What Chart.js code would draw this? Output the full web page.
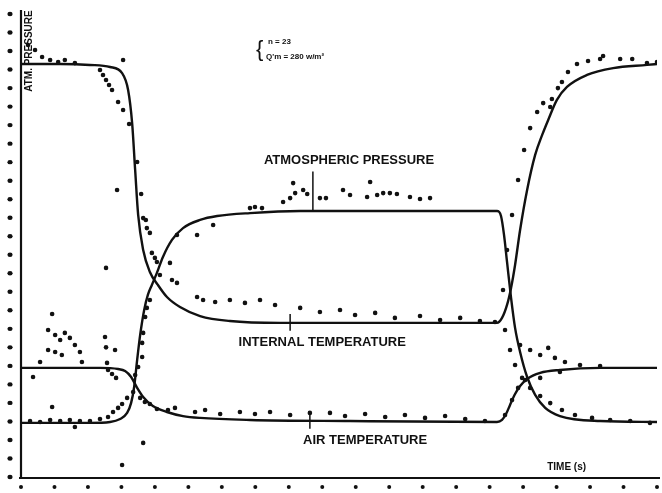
<!DOCTYPE html>
<html>
<head>
<meta charset="utf-8">
<script src="https://cdn.jsdelivr.net/npm/chart.js@4.4.0/dist/chart.umd.min.js"></script>
<style>
html,body{margin:0;padding:0;background:#fff;}
#wrap{width:662px;height:493px;}
</style>
</head>
<body>
<div id="wrap"><canvas id="c" width="662" height="493"></canvas></div>
<script>
// tick positions (unlabelled dots on both axes)
const xTicks = [0,1,2,3,4,5,6,7,8,9,10,11,12,13,14,15,16,17,18,19];
const yTicks = [0,1,2,3,4,5,6,7,8,9,10,11,12,13,14,15,16,17,18,19,20,21,22,23,24,25];

// fitted curves
const itTime  = [0,1.17,2.06,2.66,3.02,3.20,3.32,3.41,3.50,3.65,3.85,4.09,4.36,4.75,5.35,6.24,7.74,11.32,14.22,14.37,14.52,14.64,14.76,14.91,15.12,15.36,15.57,15.75,16.01,16.31,16.91,17.69,18.70,19];
const itLevel = [22.30,22.30,22.25,22.14,21.81,20.90,19.11,16.58,14.15,12.26,11.07,10.37,9.72,9.18,8.69,8.42,8.32,8.32,8.32,8.59,9.29,10.21,11.45,13.34,15.50,17.39,18.47,19.28,20.36,21.06,21.71,22.08,22.25,22.30];

const apTime  = [0,2.06,2.66,2.96,3.17,3.29,3.38,3.47,3.56,3.68,3.79,3.91,4.06,4.24,4.51,4.84,5.35,5.86,6.84,8.34,11.32,14.22,14.34,14.43,14.52,14.64,14.76,14.91,15.12,15.36,15.66,16.10,17.30,19];
const apLevel = [2.92,2.92,2.97,3.13,3.46,4.00,4.86,6.32,7.67,9.02,9.83,10.37,11.02,11.88,12.80,13.44,13.88,14.09,14.25,14.36,14.36,14.36,14.09,13.07,11.61,9.67,8.05,6.75,5.40,4.43,3.73,3.29,3.02,2.97];

const atTime  = [0,2.36,2.90,3.11,3.29,3.47,3.65,3.94,4.36,4.84,5.35,6.84,9.83,14.22,14.37,14.49,14.61,14.76,14.91,15.12,15.51,16.10,17.30,19];
const atLevel = [5.89,5.89,5.83,5.72,5.40,4.81,4.32,3.83,3.51,3.29,3.19,3.08,3.02,2.97,3.08,3.40,3.89,4.48,4.91,5.29,5.62,5.78,5.89,5.89];

// measured points [time, level]
const itDots = [[0.21,23.33],[0.42,23.06],[0.63,22.68],[0.87,22.52],[1.11,22.41],[1.31,22.52],[1.61,22.35],[2.36,21.98],[2.45,21.71],[2.54,21.44],[2.63,21.17],[2.72,20.90],[2.90,20.25],[3.05,19.82],[3.05,22.52],[3.23,19.06],[3.47,17.01],[2.87,15.50],[3.59,15.28],[3.73,13.88],[3.76,13.44],[3.85,13.18],[3.65,13.98],[3.91,12.10],[4.00,11.83],[4.06,11.61],[4.45,11.56],[4.51,10.64],[4.66,10.48],[4.15,10.91],[5.26,9.72],[5.44,9.56],[5.80,9.45],[6.24,9.56],[6.69,9.40],[7.14,9.56],[7.59,9.29],[8.34,9.13],[8.93,8.91],[9.53,9.02],[9.98,8.75],[10.58,8.86],[11.17,8.59],[11.92,8.69],[12.52,8.48],[13.12,8.59],[13.71,8.42],[14.16,8.37],[2.54,11.29],[14.40,10.10],[14.52,12.26],[14.67,14.15],[14.85,16.04],[15.03,17.66],[15.21,18.84],[15.42,19.71],[15.60,20.19],[15.81,19.98],[15.86,20.41],[16.04,21.00],[16.16,21.33],[16.34,21.87],[16.61,22.30],[16.94,22.46],[17.30,22.57],[17.39,22.73],[17.90,22.57],[18.26,22.57],[18.70,22.35],[19.0,22.41]];
const apDots = [[0.27,3.02],[0.57,2.97],[0.87,3.08],[1.17,3.02],[1.46,3.08],[1.76,3.02],[2.06,3.02],[2.36,3.13],[2.60,3.24],[2.75,3.51],[2.90,3.73],[3.02,3.94],[3.17,4.27],[3.35,4.59],[3.41,5.51],[3.50,5.94],[3.62,6.48],[3.62,7.24],[3.65,7.78],[3.71,8.64],[3.76,9.13],[3.85,9.56],[4.66,13.07],[5.26,13.07],[5.74,13.61],[6.84,14.52],[6.99,14.58],[7.20,14.52],[7.83,14.85],[8.04,15.06],[8.13,15.87],[8.19,15.33],[8.43,15.50],[8.55,15.28],[8.93,15.06],[9.11,15.06],[9.62,15.50],[9.83,15.23],[10.43,15.93],[10.34,15.12],[10.64,15.23],[10.82,15.33],[11.02,15.33],[11.23,15.28],[11.62,15.12],[11.92,15.01],[12.22,15.06],[14.46,7.94],[14.61,6.86],[14.76,6.05],[14.97,5.35],[15.21,4.81],[15.51,4.37],[15.81,3.99],[16.16,3.62],[16.55,3.35],[17.06,3.19],[17.60,3.08],[18.20,3.02],[18.79,2.92]];
const atDots = [[0.93,8.80],[0.81,7.94],[1.02,7.67],[1.17,7.40],[1.31,7.78],[1.46,7.51],[1.61,7.13],[1.76,6.75],[1.22,6.59],[1.02,6.75],[0.81,6.86],[0.57,6.21],[1.82,6.21],[2.51,7.56],[2.54,7.00],[2.81,6.86],[2.57,6.16],[2.60,5.78],[2.72,5.56],[2.84,5.35],[0.36,5.40],[0.93,3.78],[1.61,2.70],[3.02,0.65],[3.65,1.84],[3.56,4.27],[3.70,4.05],[3.85,3.94],[4.06,3.67],[4.39,3.62],[4.60,3.73],[5.20,3.51],[5.50,3.62],[5.95,3.40],[6.54,3.51],[6.99,3.40],[7.44,3.51],[8.04,3.35],[8.63,3.46],[9.23,3.46],[9.68,3.29],[10.28,3.40],[10.88,3.24],[11.47,3.35],[12.07,3.19],[12.67,3.29],[13.27,3.13],[13.86,3.02],[14.46,3.35],[14.67,4.16],[14.85,4.81],[15.06,5.24],[14.91,7.13],[15.21,6.86],[15.51,6.59],[15.75,6.97],[15.95,6.43],[16.25,6.21],[16.70,6.05],[17.30,5.99],[16.10,5.67],[15.51,5.35]];

const ink = '#111';

function curve(xs, ys) {
    return {
        data: xs.map((x, i) => ({x: x, y: ys[i]})),
        showLine: true,
        borderColor: ink,
        borderWidth: 2.4,
        pointRadius: 0,
        cubicInterpolationMode: 'monotone'
    };
}
function dots(pts) {
    return {
        data: pts.map(p => ({x: p[0], y: p[1]})),
        showLine: false,
        pointRadius: 2.3,
        pointBackgroundColor: ink,
        pointBorderWidth: 0
    };
}

// axes, tick dots and the hand lettering
const decor = {
    id: 'decor',
    afterDraw(chart) {
        const ctx = chart.ctx;
        const xs = chart.scales.x, ys = chart.scales.y;
        const a = chart.chartArea;
        ctx.save();
        ctx.strokeStyle = ink;
        ctx.fillStyle = ink;
        ctx.lineWidth = 2.2;
        ctx.beginPath();
        ctx.moveTo(a.left, a.top - 4);
        ctx.lineTo(a.left, a.bottom + 1);
        ctx.moveTo(a.left - 2, a.bottom + 1);
        ctx.lineTo(a.right + 3, a.bottom + 1);
        ctx.stroke();

        for (let t of xTicks) {
            ctx.beginPath();
            ctx.arc(xs.getPixelForValue(t), a.bottom + 10, 2, 0, Math.PI * 2);
            ctx.fill();
        }
        for (let t of yTicks) {
            ctx.beginPath();
            ctx.ellipse(a.left - 11, ys.getPixelForValue(t), 2.6, 2.2, 0, 0, Math.PI * 2);
            ctx.fill();
        }

        const label = (txt, x, y, size, maxW) => {
            ctx.font = 'bold ' + size + 'px "Liberation Sans", Arial, sans-serif';
            ctx.textAlign = 'center';
            ctx.textBaseline = 'middle';
            ctx.fillText(txt, x, y, maxW);
        };
        const pointer = (x, y1, y2) => {
            ctx.lineWidth = 1.5;
            ctx.beginPath();
            ctx.moveTo(x, y1);
            ctx.lineTo(x, y2);
            ctx.stroke();
        };

        label('ATMOSPHERIC PRESSURE', xs.getPixelForValue(9.8), ys.getPixelForValue(17.1), 13, 176);
        pointer(xs.getPixelForValue(8.72), ys.getPixelForValue(16.5), ys.getPixelForValue(14.4));
        label('INTERNAL TEMPERATURE', xs.getPixelForValue(9.0), ys.getPixelForValue(7.25), 13, 175);
        pointer(xs.getPixelForValue(8.04), ys.getPixelForValue(8.8), ys.getPixelForValue(7.9));
        label('AIR TEMPERATURE', xs.getPixelForValue(10.28), ys.getPixelForValue(2.0), 13, 130);
        pointer(xs.getPixelForValue(8.63), ys.getPixelForValue(3.5), ys.getPixelForValue(2.6));
        label('TIME (s)', xs.getPixelForValue(16.3), ys.getPixelForValue(0.5), 10, 48);

        ctx.save();
        ctx.translate(a.left + 8, ys.getPixelForValue(23.0));
        ctx.rotate(-Math.PI / 2);
        label('ATM. PRESSURE', 0, 0, 10, 92);
        ctx.restore();

        // sample note
        ctx.font = 'bold 8px "Liberation Sans", Arial, sans-serif';
        ctx.textAlign = 'left';
        ctx.textBaseline = 'middle';
        ctx.fillText('n = 23', 268, 42);
        ctx.fillText("Q'm = 280 w/m\u00B2", 266, 57);
        ctx.font = '22px "Liberation Sans", Arial, sans-serif';
        ctx.fillText('{', 256, 50);
        ctx.restore();
    }
};

new Chart(document.getElementById('c'), {
    type: 'scatter',
    data: {
        datasets: [
            curve(itTime, itLevel),
            curve(apTime, apLevel),
            curve(atTime, atLevel),
            dots(itDots),
            dots(apDots),
            dots(atDots)
        ]
    },
    options: {
        responsive: false,
        animation: false,
        devicePixelRatio: 1,
        layout: { padding: { left: 21, right: 5, top: 14, bottom: 16 } },
        plugins: { legend: { display: false }, tooltip: { enabled: false } },
        scales: {
            x: { type: 'linear', min: 0, max: 19, display: false },
            y: { type: 'linear', min: 0, max: 25, display: false }
        }
    },
    plugins: [decor]
});
</script>
</body>
</html>
